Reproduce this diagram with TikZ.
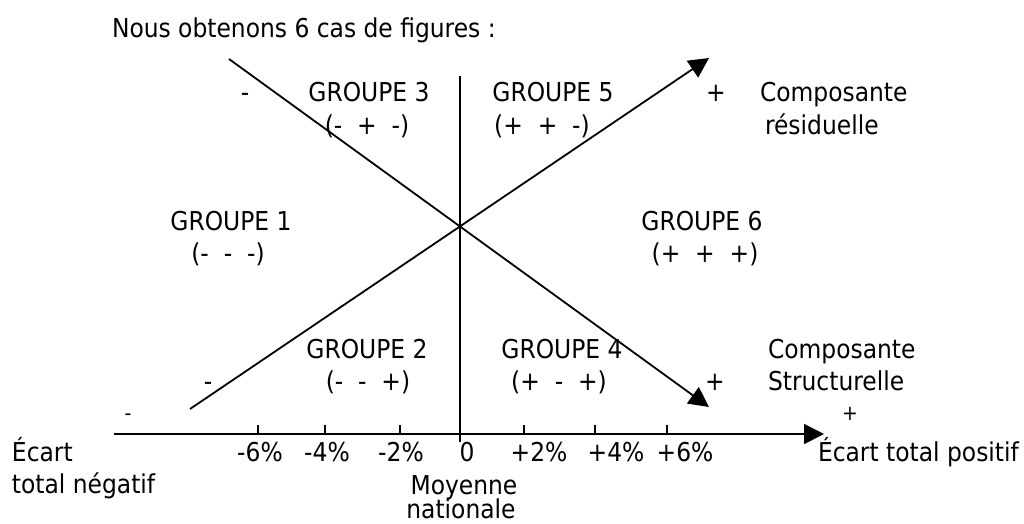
\documentclass[tikz,border=0pt]{standalone}
\usepackage{fontspec}
\setmainfont{DejaVu Sans Condensed}
\usetikzlibrary{arrows.meta}
\tikzset{
  ln/.style={line width=1.8pt, line cap=butt},
  arr/.style={ln, -{Triangle[length=20pt,width=20pt]}},
  tk/.style={line width=1.8pt},
  txt/.style={inner sep=0pt, outer sep=0pt, font=\fontsize{26}{30}\selectfont},
  sm/.style={inner sep=0pt, outer sep=0pt, font=\fontsize{21}{24}\selectfont},
}
\begin{document}
\begin{tikzpicture}[x=1pt,y=-1pt]
\useasboundingbox (0,0) rectangle (1024,524);
% title
\node[txt, anchor=base west] (title) at (112,38) {Nous obtenons 6 cas de figures :};
% coordinates
\coordinate (vt) at (460,76);
\coordinate (vb) at (460,442);
\coordinate (ax0) at (114,434);
\coordinate (ax1) at (824,434);
\coordinate (a0) at (229,59);
\coordinate (a1) at (709,407);
\coordinate (b0) at (190,409);
\coordinate (b1) at (709,58);
% lines
\draw[ln] (vt) -- (vb);
\draw[arr] (ax0) -- (ax1);
\draw[arr] (a0) -- (a1);
\draw[arr] (b0) -- (b1);
% ticks
\foreach \x/\n in {258/t1,325/t2,400/t3,524/t4,595/t5,667/t6}{
  \coordinate (\n) at (\x,425);
  \draw[tk] (\n) -- ++(0,9);
}
% tick labels
\node[txt, anchor=base] (l1) at (260,461) {-6\%};
\node[txt, anchor=base] (l2) at (327,461) {-4\%};
\node[txt, anchor=base] (l3) at (401,461) {-2\%};
\node[txt, anchor=base] (l4) at (467,461) {0};
\node[txt, anchor=base] (l5) at (539,461) {+2\%};
\node[txt, anchor=base] (l6) at (616,461) {+4\%};
\node[txt, anchor=base] (l7) at (685,461) {+6\%};
% axis labels
\node[txt, anchor=base west] (en1) at (12,461) {Écart};
\node[txt, anchor=base west] (en2) at (12,493) {total négatif};
\node[txt, anchor=base west] (ep) at (818,461) {Écart total positif};
\node[txt, anchor=base] (mn1) at (464,494) {Moyenne};
\node[txt, anchor=base] (mn2) at (461,518) {nationale};
% groups
\node[txt, anchor=base] (g3) at (369,102) {GROUPE 3};
\node[txt, anchor=base] (g3s) at (367,134) {(-\ \ +\ \ -)};
\node[txt, anchor=base] (g5) at (553,102) {GROUPE 5};
\node[txt, anchor=base] (g5s) at (542,134) {(+\ \ +\ \ -)};
\node[txt, anchor=base] (g1) at (231,230) {GROUPE 1};
\node[txt, anchor=base] (g1s) at (228,262) {(-\ \ -\ \ -)};
\node[txt, anchor=base] (g6) at (702,230) {GROUPE 6};
\node[txt, anchor=base] (g6s) at (705,262) {(+\ \ +\ \ +)};
\node[txt, anchor=base] (g2) at (367,358) {GROUPE 2};
\node[txt, anchor=base] (g2s) at (368,390) {(-\ \ -\ \ +)};
\node[txt, anchor=base] (g4) at (562,358) {GROUPE 4};
\node[txt, anchor=base] (g4s) at (559,390) {(+\ \ -\ \ +)};
% components
\node[txt, anchor=base west] (cr1) at (760,102) {Composante};
\node[txt, anchor=base west] (cr2) at (765,135) {résiduelle};
\node[txt, anchor=base west] (cs1) at (768,358) {Composante};
\node[txt, anchor=base west] (cs2) at (768,390) {Structurelle};
% signs
\node[txt, anchor=base] (s1) at (245,102) {-};
\node[txt, anchor=base] (s2) at (716,102) {+};
\node[txt, anchor=base] (s3) at (208,390) {-};
\node[txt, anchor=base] (s4) at (715,390) {+};
\node[sm, anchor=base] (s5) at (850,420) {+};
\node[sm, anchor=base] (s6) at (128,420) {-};
\end{tikzpicture}
\end{document}
